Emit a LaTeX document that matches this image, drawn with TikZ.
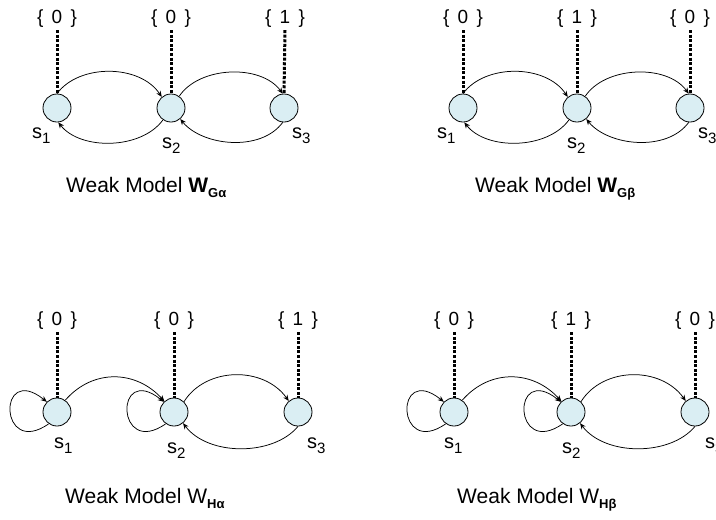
\documentclass[tikz,border=0pt]{standalone}
\usepackage{fontspec}
\setmainfont{Liberation Sans}
\usetikzlibrary{arrows.meta}
\definecolor{stfill}{RGB}{218,238,243}
\tikzset{
  state/.style={circle, draw, line width=0.8pt, fill=stfill, minimum size=28pt, inner sep=0pt},
  prop/.style={line width=3pt, dash pattern=on 3pt off 1.6pt},
  tr/.style={line width=0.75pt, -{Stealth[length=6pt,width=5pt]}},
  plab/.style={font=\fontsize{19}{19}\selectfont, inner sep=0pt},
  slab/.style={anchor=base west, inner sep=0pt, font=\fontsize{20}{20}\selectfont},
  captxt/.style={anchor=base west, inner sep=0pt, font=\fontsize{21}{21}\selectfont},
}
\newcommand{\mystl}[1]{s\raisebox{-5pt}{\fontsize{15}{15}\selectfont #1}}
\newcommand{\mybsub}[1]{\raisebox{-5pt}{\fontsize{13}{13}\selectfont\bfseries #1}}
\newcommand{\mypv}[1]{\{\hspace{3pt} #1\hspace{3pt} \}}
\begin{document}
\begin{tikzpicture}[x=1pt,y=1pt]
\fill[white] (0,0) rectangle (716,-520);
\useasboundingbox (0,0) rectangle (716,-520);

% ---------- Top left ----------
\node[state] (a1) at (57,-108) {};
\node[state] (a2) at (171,-108) {};
\node[state] (a3) at (284,-108) {};
\node[plab] (pa1) at (57,-19) {\mypv{0}};
\node[plab] (pa2) at (171,-19) {\mypv{0}};
\node[plab] (pa3) at (285,-19) {\mypv{1}};
\draw[prop] ([yshift=-2pt]pa1.south) -- (a1.north);
\draw[prop] ([yshift=-2pt]pa2.south) -- (a2.north);
\draw[prop] ([yshift=-2pt]pa3.south) -- (a3.north);
\draw[tr] (a1.90) .. controls +(22,30) and +(-22,33) .. (a2.130);
\draw[tr] (a2.-124) .. controls +(-22,-30) and +(22,-28) .. (a1.-85);
\draw[tr] (a2.55) .. controls +(20,30) and +(-22,30) .. (a3.95);
\draw[tr] (a3.-95) .. controls +(-22,-30) and +(22,-27) .. (a2.-50);
\node[slab] (la1) at (32,-138) {\mystl{1}};
\node[slab] (la2) at (162,-148) {\mystl{2}};
\node[slab] (la3) at (292,-138) {\mystl{3}};
\node[captxt] (ca) at (66,-192) {Weak Model \textbf{W}\mybsub{Gα}};

% ---------- Top right ----------
\node[state] (b1) at (463,-108) {};
\node[state] (b2) at (577,-108) {};
\node[state] (b3) at (690,-108) {};
\node[plab] (pb1) at (463,-19) {\mypv{0}};
\node[plab] (pb2) at (577,-19) {\mypv{1}};
\node[plab] (pb3) at (690,-19) {\mypv{0}};
\draw[prop] ([yshift=-2pt]pb1.south) -- (b1.north);
\draw[prop] ([yshift=-2pt]pb2.south) -- (b2.north);
\draw[prop] ([yshift=-2pt]pb3.south) -- (b3.north);
\draw[tr] (b1.90) .. controls +(22,30) and +(-22,33) .. (b2.130);
\draw[tr] (b2.-124) .. controls +(-22,-30) and +(22,-28) .. (b1.-85);
\draw[tr] (b2.55) .. controls +(20,30) and +(-22,30) .. (b3.95);
\draw[tr] (b3.-95) .. controls +(-22,-30) and +(22,-27) .. (b2.-50);
\node[slab] (lb1) at (437,-138) {\mystl{1}};
\node[slab] (lb2) at (567,-148) {\mystl{2}};
\node[slab] (lb3) at (698,-138) {\mystl{3}};
\node[captxt] (cb) at (475,-192) {Weak Model \textbf{W}\mybsub{Gβ}};

% ---------- Bottom left ----------
\node[state] (c1) at (57,-412) {};
\node[state] (c2) at (174,-412) {};
\node[state] (c3) at (298,-412) {};
\node[plab] (pc1) at (57,-321) {\mypv{0}};
\node[plab] (pc2) at (174,-321) {\mypv{0}};
\node[plab] (pc3) at (298,-321) {\mypv{1}};
\draw[prop] ([yshift=-2pt]pc1.south) -- (c1.north);
\draw[prop] ([yshift=-2pt]pc2.south) -- (c2.north);
\draw[prop] ([yshift=-2pt]pc3.south) -- (c3.north);
\draw[tr] (c1.-125) .. controls +(-50,-35) and +(-50,40) .. (c1.135);
\draw[tr] (c2.-125) .. controls +(-50,-35) and +(-50,40) .. (c2.135);
\draw[tr] (c1.55) .. controls +(28,32) and +(-28,31) .. (c2.132);
\draw[tr] (c2.46) .. controls +(22,35) and +(-25,35) .. (c3.130);
\draw[tr] (c3.-90) .. controls +(-25,-30) and +(25,-33) .. (c2.-51);
\node[slab] (lc1) at (54,-448) {\mystl{1}};
\node[slab] (lc2) at (167,-453) {\mystl{2}};
\node[slab] (lc3) at (307,-448) {\mystl{3}};
\node[captxt] (cc) at (65,-503) {Weak Model W\mybsub{Hα}};

% ---------- Bottom right ----------
\node[state] (d1) at (454,-412) {};
\node[state] (d2) at (571,-412) {};
\node[state] (d3) at (695,-412) {};
\node[plab] (pd1) at (454,-321) {\mypv{0}};
\node[plab] (pd2) at (571,-321) {\mypv{1}};
\node[plab] (pd3) at (695,-321) {\mypv{0}};
\draw[prop] ([yshift=-2pt]pd1.south) -- (d1.north);
\draw[prop] ([yshift=-2pt]pd2.south) -- (d2.north);
\draw[prop] ([yshift=-2pt]pd3.south) -- (d3.north);
\draw[tr] (d1.-125) .. controls +(-50,-35) and +(-50,40) .. (d1.135);
\draw[tr] (d2.-125) .. controls +(-50,-35) and +(-50,40) .. (d2.135);
\draw[tr] (d1.55) .. controls +(28,32) and +(-28,31) .. (d2.132);
\draw[tr] (d2.46) .. controls +(22,35) and +(-25,35) .. (d3.130);
\draw[tr] (d3.-90) .. controls +(-25,-30) and +(25,-33) .. (d2.-51);
\node[slab] (ld1) at (444,-448) {\mystl{1}};
\node[slab] (ld2) at (562,-453) {\mystl{2}};
\node[slab] (ld3) at (705,-448) {\mystl{3}};
\node[captxt] (cd) at (457,-503) {Weak Model W\mybsub{Hβ}};
\end{tikzpicture}
\end{document}
